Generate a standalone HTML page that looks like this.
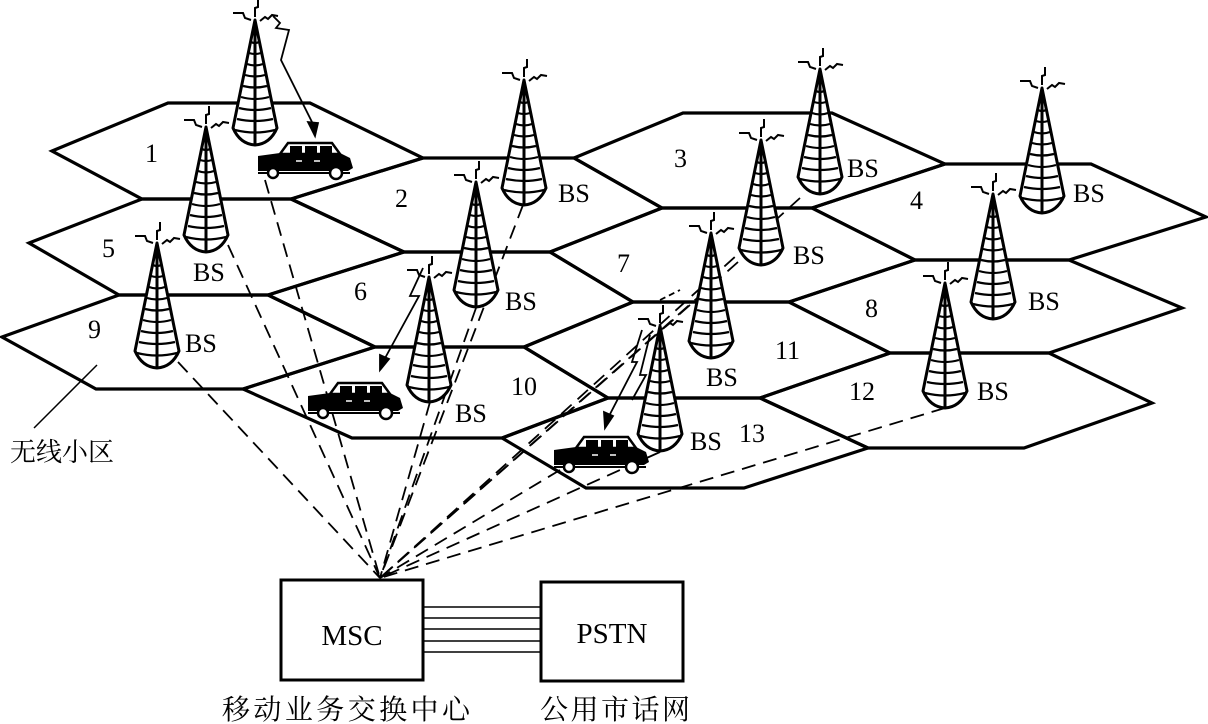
<!DOCTYPE html>
<html><head><meta charset="utf-8"><style>
html,body{margin:0;padding:0;background:#fff;}
svg{display:block;}
text{font-family:"Liberation Serif","Noto Serif CJK SC",serif;fill:#000;}
</style></head><body>
<svg width="1208" height="724" viewBox="0 0 1208 724" xmlns="http://www.w3.org/2000/svg">
<defs>
<symbol id="tw" overflow="visible">
  <g fill="none" stroke="#000" stroke-width="3" stroke-linejoin="round">
    <path d="M0,0 L-22,108 Q-15,124 0,125 Q15,124 22,108 Z" fill="#fff"/>
    <line x1="0" y1="0" x2="0" y2="125"/>
    <path d="M-4,22 Q0,24 4,22 M-6,33 Q0,35 6,33 M-8,44 Q0,47 8,44 M-10,55 Q0,58 10,55 M-12,66 Q0,69 12,66 M-14,77 Q0,81 14,77 M-16,88 Q0,92 16,88 M-18,99 Q0,103 18,99 M-20,110 Q0,115 20,110" stroke-width="2.2"/>
  </g>
  <g fill="none" stroke="#000" stroke-width="2">
    <polyline points="-22,-7 -12,-7 -10,-2 -4,0"/>
    <polyline points="0,-3 0,-12 3,-13 3,-21"/>
    <polyline points="5,1 10,-3 13,-1 17,-5 23,-4"/>
  </g>
</symbol>
<symbol id="car" overflow="visible">
  <path d="M24,12 L32,1 L76,1 L84,12 Z" fill="#fff" stroke="#000" stroke-width="2.5"/>
  <rect x="34" y="4" width="12" height="7" fill="#000"/>
  <rect x="49" y="4" width="12" height="7" fill="#000"/>
  <rect x="64" y="4" width="12" height="7" fill="#000"/>
  <path d="M2,14 L24,11 L84,11 L94,16 L97,26 L92,29 L2,29 Z" fill="#000"/>
  <line x1="2" y1="31" x2="94" y2="31" stroke="#000" stroke-width="2"/>
  <circle cx="17" cy="31" r="5" fill="#fff" stroke="#000" stroke-width="2.5"/>
  <circle cx="80" cy="31" r="6" fill="#fff" stroke="#000" stroke-width="2.5"/>
  <line x1="40" y1="19" x2="46" y2="19" stroke="#fff" stroke-width="1.5"/>
  <line x1="58" y1="19" x2="64" y2="19" stroke="#fff" stroke-width="1.5"/>
</symbol>
</defs>

<g fill="none" stroke="#000" stroke-width="3.2" stroke-linejoin="miter">
<polygon points="52,151 168,103 310,103 423,158 291,199 142,199"/>
<polygon points="29,243 142,199 291,199 404,252 268,295 119,295"/>
<polygon points="2,337 119,295 268,295 375,347 243,389 96,389"/>
<polygon points="291,199 423,158 574,158 662,208 550,252 404,252"/>
<polygon points="268,295 404,252 550,252 633,302 524,347 375,347"/>
<polygon points="243,389 375,347 524,347 608,398 502,438 352,438"/>
<polygon points="574,158 683,113 832,113 945,164 812,208 662,208"/>
<polygon points="550,252 662,208 812,208 915,260 789,302 633,302"/>
<polygon points="524,347 633,302 789,302 890,353 760,398 608,398"/>
<polygon points="812,208 945,164 1091,164 1206,217 1069,260 915,260"/>
<polygon points="789,302 915,260 1069,260 1182,308 1049,353 890,353"/>
<polygon points="760,398 890,353 1049,353 1152,403 1024,448 868,448"/>
<polygon points="502,438 608,398 760,398 868,448 744,488 586,488"/>
</g>

<g stroke="#000" stroke-width="1.8" stroke-dasharray="14,8" fill="none">
<line x1="178" y1="362" x2="380" y2="578"/>
<line x1="228" y1="245" x2="380" y2="578"/>
<line x1="265" y1="180" x2="380" y2="578"/>
<line x1="430" y1="402" x2="380" y2="578"/>
<line x1="476" y1="308" x2="380" y2="578"/>
<line x1="523" y1="205" x2="380" y2="578"/>
<line x1="738" y1="262" x2="380" y2="578"/>
<line x1="800" y1="198" x2="380" y2="578"/>
<line x1="690" y1="305" x2="380" y2="578"/>
<line x1="660" y1="452" x2="380" y2="578"/>
<line x1="945" y1="408" x2="380" y2="578"/>
<line x1="560" y1="470" x2="380" y2="578"/>
</g>

<use href="#tw" x="255" y="20"/>
<use href="#tw" x="206" y="127"/>
<use href="#tw" x="157" y="243"/>
<use href="#tw" x="524" y="80"/>
<use href="#tw" x="476" y="182"/>
<use href="#tw" x="429" y="277"/>
<use href="#tw" x="820" y="69"/>
<use href="#tw" x="761" y="140"/>
<use href="#tw" x="1042" y="88"/>
<use href="#tw" x="993" y="194"/>
<use href="#tw" x="711" y="233"/>
<use href="#tw" x="945" y="283"/>
<use href="#tw" x="660" y="326"/>

<g stroke="#000" stroke-width="1.8" fill="none">
<polyline points="273,16 280,23 276,28 289,30 281,60 315,128"/>
<polygon points="315,136 308,122 318,123" fill="#000"/>
<polyline points="423,268 410,296 419,296 384,360"/>
<polygon points="380,370 380,355 389,359" fill="#000"/>
<polyline points="642,330 632,362 637,362 608,418"/>
<polygon points="605,428 604,412 613,416" fill="#000"/>
<polyline points="650,335 640,375 646,375 632,400"/>
<line x1="660" y1="300" x2="680" y2="290" stroke-dasharray="6,4"/>
</g>

<use href="#car" x="256" y="142"/>
<use href="#car" x="306" y="382"/>
<use href="#car" x="552" y="436"/>

<g font-size="26">
<text x="145" y="162">1</text>
<text x="395" y="207">2</text>
<text x="674" y="167">3</text>
<text x="910" y="209">4</text>
<text x="102" y="257">5</text>
<text x="354" y="300">6</text>
<text x="617" y="272">7</text>
<text x="865" y="317">8</text>
<text x="88" y="338">9</text>
<text x="511" y="395">10</text>
<text x="775" y="359">11</text>
<text x="849" y="400">12</text>
<text x="739" y="442">13</text>
<text x="193" y="281">BS</text>
<text x="185" y="352">BS</text>
<text x="558" y="202">BS</text>
<text x="505" y="310">BS</text>
<text x="455" y="422">BS</text>
<text x="847" y="177">BS</text>
<text x="793" y="264">BS</text>
<text x="1073" y="202">BS</text>
<text x="1028" y="310">BS</text>
<text x="706" y="386">BS</text>
<text x="977" y="400">BS</text>
<text x="690" y="450">BS</text>
</g>
<line x1="97" y1="365" x2="34" y2="428" stroke="#000" stroke-width="1.5"/>
<text x="10" y="461" font-size="26">无线小区</text>

<rect x="281" y="580" width="142" height="100" fill="#fff" stroke="#000" stroke-width="3"/>
<rect x="541" y="582" width="142" height="99" fill="#fff" stroke="#000" stroke-width="3"/>
<g stroke="#000" stroke-width="1.6">
<line x1="423" y1="607" x2="541" y2="607"/>
<line x1="423" y1="618" x2="541" y2="618"/>
<line x1="423" y1="629" x2="541" y2="629"/>
<line x1="423" y1="641" x2="541" y2="641"/>
<line x1="423" y1="652" x2="541" y2="652"/>
</g>
<text x="352" y="645" font-size="29" text-anchor="middle">MSC</text>
<text x="612" y="643" font-size="29" text-anchor="middle">PSTN</text>
<text x="222" y="719" font-size="28" textLength="248">移动业务交换中心</text>
<text x="540" y="719" font-size="28" textLength="150">公用市话网</text>
</svg>
</body></html>
